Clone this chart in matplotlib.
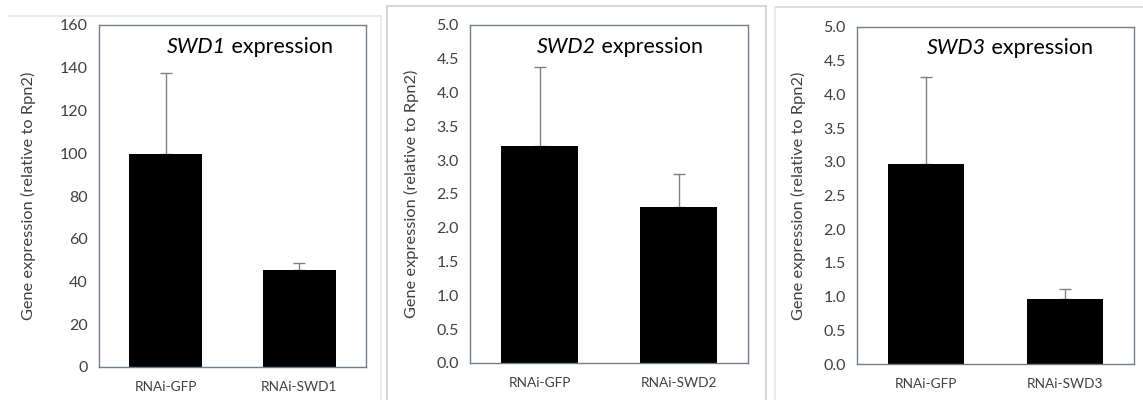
import matplotlib
matplotlib.use("Agg")
import matplotlib.pyplot as plt
from matplotlib.lines import Line2D

plt.rcParams['font.family'] = ['Lato', 'DejaVu Sans']

# ---- data ----
genes = ["SWD1", "SWD2", "SWD3"]
categories1 = ["RNAi-GFP", "RNAi-SWD1"]
categories2 = ["RNAi-GFP", "RNAi-SWD2"]
categories3 = ["RNAi-GFP", "RNAi-SWD3"]
values1 = [99.6, 45.3]
errors1 = [38.0, 3.2]
values2 = [3.21, 2.31]
errors2 = [1.17, 0.48]
values3 = [2.97, 0.97]
errors3 = [1.29, 0.14]
ylim1, yticks1 = 160, [0, 20, 40, 60, 80, 100, 120, 140, 160]
ylim2, yticks2 = 5.0, [0, 0.5, 1.0, 1.5, 2.0, 2.5, 3.0, 3.5, 4.0, 4.5, 5.0]
ylim3, yticks3 = 5.0, [0, 0.5, 1.0, 1.5, 2.0, 2.5, 3.0, 3.5, 4.0, 4.5, 5.0]

W, H = 1143, 400
fig = plt.figure(figsize=(W / 100, H / 100), dpi=100)

def fx(px):
    return px / W

def fy(py):
    return 1 - py / H

# panel frames (light gray)
frame_lines = [
    ((9, 381), (16, 16), '#e6e6e6'),
    ((381, 381), (16, 400), '#e6e6e6'),
    ((387, 766), (6, 6), '#d0d0d0'),
    ((387, 387), (6, 400), '#d0d0d0'),
    ((766, 766), (6, 400), '#d0d0d0'),
    ((775, 1143), (7, 7), '#d6d6d6'),
    ((775, 775), (7, 400), '#e6e6e6'),
]
for xs, ys, c in frame_lines:
    fig.add_artist(Line2D([fx(xs[0]), fx(xs[1])], [fy(ys[0]), fy(ys[1])],
                          color=c, lw=1.2, transform=fig.transFigure))

panels = [
    dict(box=(99, 25, 366, 367), cats=categories1, vals=values1, errs=errors1,
         ylim=ylim1, yticks=yticks1, fmt="{:.0f}", gene=genes[0], tx=249.5, ty=47, lx=-0.265),
    dict(box=(470, 25, 748, 363), cats=categories2, vals=values2, errs=errors2,
         ylim=ylim2, yticks=yticks2, fmt="{:.1f}", gene=genes[1], tx=620, ty=47, lx=-0.209),
    dict(box=(857, 27, 1134, 364), cats=categories3, vals=values3, errs=errors3,
         ylim=ylim3, yticks=yticks3, fmt="{:.1f}", gene=genes[2], tx=1010, ty=48, lx=-0.213),
]

spine_color = '#6f7d8f'
text_color = '#404040'
title_size = 15.5

renderer = fig.canvas.get_renderer()

for p in panels:
    l, t, r, b = p['box']
    ax = fig.add_axes([fx(l), fy(b), fx(r) - fx(l), fy(t) - fy(b)])
    x = list(range(len(p['cats'])))
    ax.bar(x, p['vals'], width=0.55, color='black', zorder=2)
    ax.errorbar(x, p['vals'], yerr=[[0] * len(x), p['errs']], fmt='none',
                ecolor='#808080', elinewidth=1.0, capsize=4, capthick=1.0, zorder=1)
    ax.set_xlim(-0.5, 1.5)
    ax.set_ylim(0, p['ylim'])
    ax.set_yticks(p['yticks'])
    ax.set_yticklabels([p['fmt'].format(v) for v in p['yticks']], fontsize=11.5, color=text_color)
    ax.set_xticks(x)
    ax.set_xticklabels(p['cats'], fontsize=9.8, color=text_color)
    ax.tick_params(axis='y', length=0, pad=8)
    ax.tick_params(axis='x', length=0, pad=10)
    for s in ax.spines.values():
        s.set_color(spine_color)
        s.set_linewidth(1.0)
    ax.set_ylabel("Gene expression (relative to Rpn2)", fontsize=11.8, color=text_color, va='center')
    ax.yaxis.set_label_coords(p['lx'], 0.5)

    # title: italic gene name + normal " expression", centered at (tx, ty) px
    t1 = fig.text(0, 0, p['gene'], fontsize=title_size, style='italic', color='black')
    t2 = fig.text(0, 0, "\u00a0expression", fontsize=title_size, color='black')
    w1 = t1.get_window_extent(renderer).width
    w2 = t2.get_window_extent(renderer).width
    x0 = p['tx'] - (w1 + w2) / 2
    t1.set_position((fx(x0), fy(p['ty'])))
    t1.set_va('center')
    t2.set_position((fx(x0 + w1), fy(p['ty'])))
    t2.set_va('center')

fig.savefig("out.png", dpi=100)
